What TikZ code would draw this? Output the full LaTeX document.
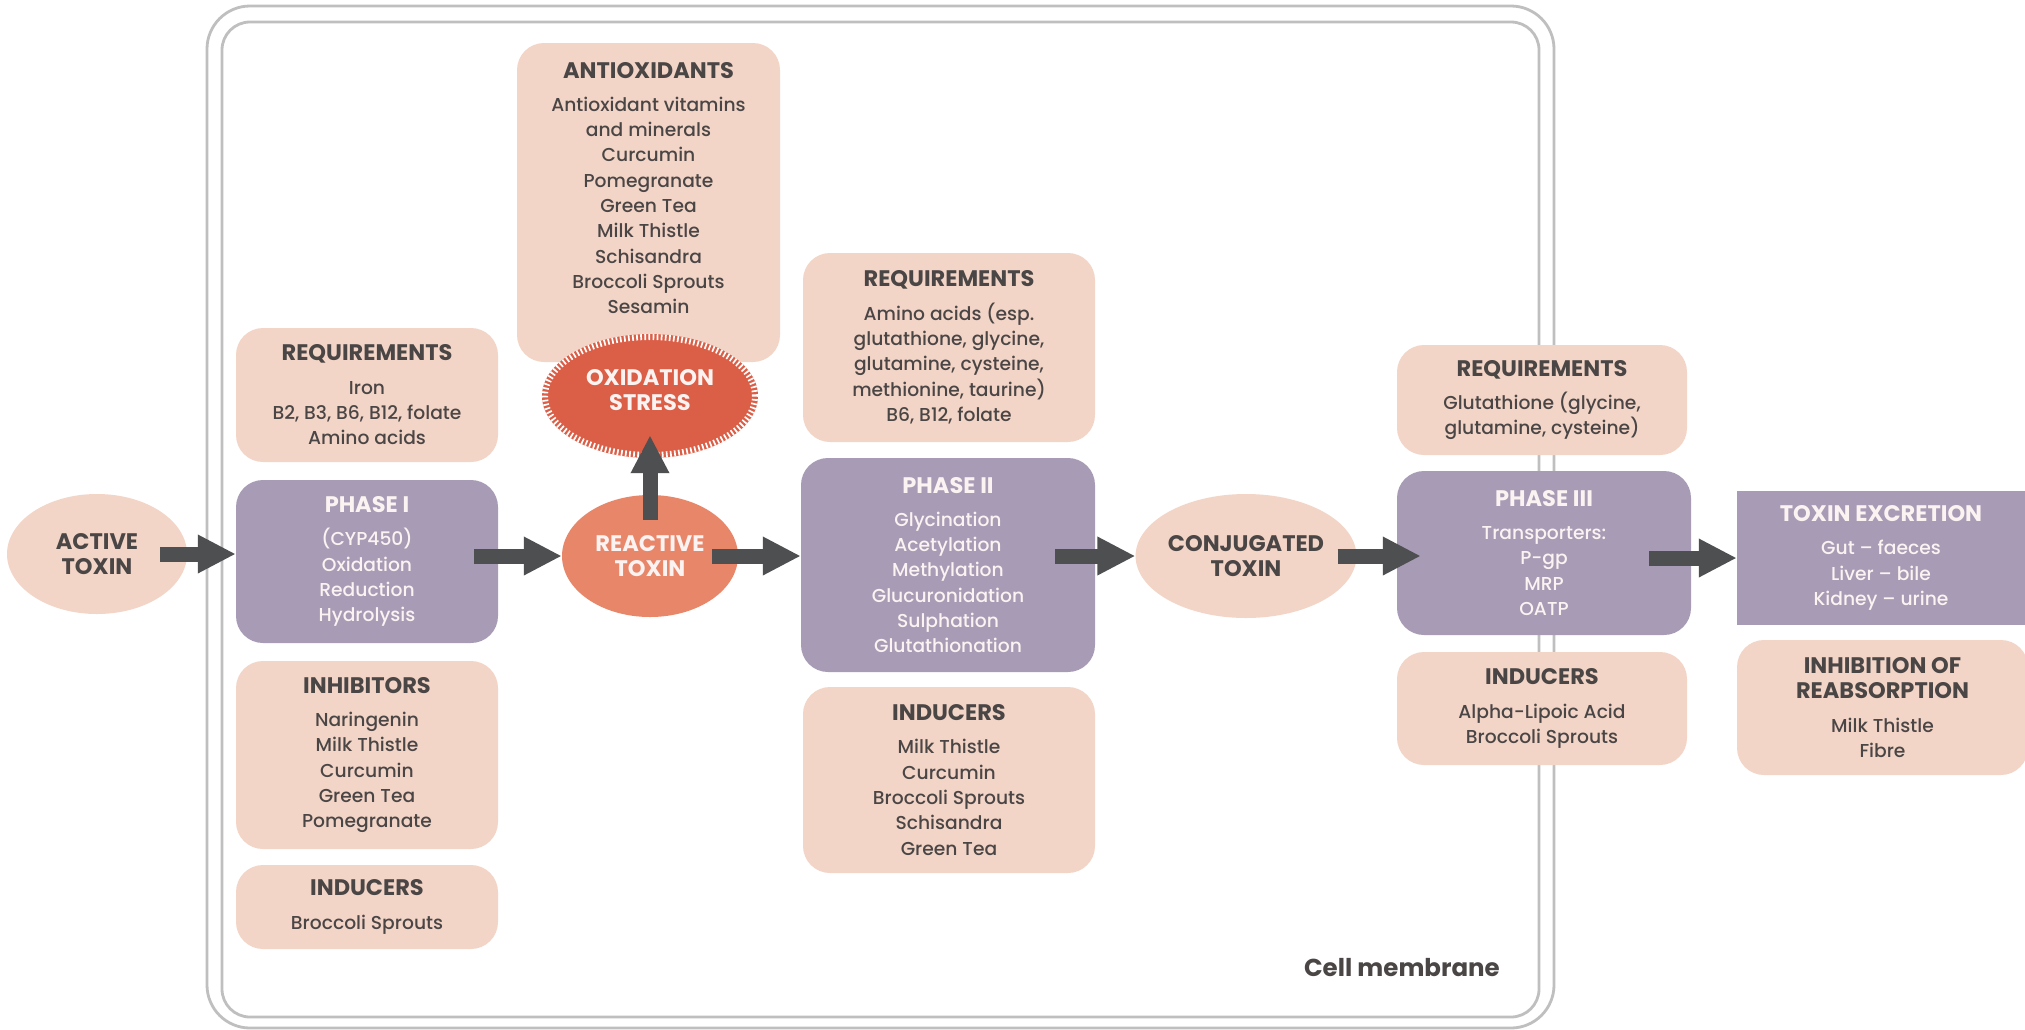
\documentclass[tikz,border=0pt]{standalone}
\usepackage{fontspec}
\setmainfont{Poppins}[UprightFont={* Medium}, BoldFont={* Bold}]
\usetikzlibrary{shapes.geometric,arrows.meta,calc}
\definecolor{pinkbox}{HTML}{F3D5C7}
\definecolor{purplebox}{HTML}{A89BB5}
\definecolor{reactcol}{HTML}{E8866A}
\definecolor{oxcol}{HTML}{DB5E47}
\definecolor{arrowcol}{HTML}{4D4F51}
\definecolor{txtcol}{HTML}{4B4646}
\definecolor{memcol}{HTML}{BFBFBF}
\definecolor{lighttxt}{HTML}{FBF3F1}
\newcommand\bodyfnt{\fontsize{18.7}{25.3}\selectfont}
\newcommand\hdfnt{\fontsize{22.5}{25.3}\selectfont\bfseries}
\newcommand\hd[1]{{\hdfnt #1}}
\tikzset{
  pbox/.style={fill=pinkbox, rounded corners=27pt, text=txtcol, align=center, inner sep=0pt, font=\bodyfnt},
  vbox/.style={fill=purplebox, rounded corners=27pt, text=lighttxt, align=center, inner sep=0pt, font=\bodyfnt},
  toxin/.style={ellipse, fill=pinkbox, inner sep=0pt, align=center, font=\hdfnt, text=txtcol},
  flow/.style={draw=arrowcol, line width=15pt, -{Triangle[length=38pt,width=36pt]}},
  membrane/.style={draw=memcol, line width=2.8pt},
}
\begin{document}
\begin{tikzpicture}[x=1pt,y=-1pt]
\useasboundingbox[fill=white] (0,0) rectangle (2025,1029);
% cell membrane
\draw[membrane, rounded corners=43pt] (207,6) rectangle (1554,1028);
\draw[membrane, rounded corners=28pt] (222,22) rectangle (1539,1017);

% Phase I column
\node[pbox, minimum width=262pt, minimum height=134pt] (req1) at (367,395)
  {\hd{REQUIREMENTS}\\[8pt]Iron\\B2, B3, B6, B12, folate\\Amino acids};
\node[vbox, minimum width=262pt, minimum height=163pt] (p1) at (367,561.5)
  {\hd{PHASE I}\\[8pt](CYP450)\\Oxidation\\Reduction\\Hydrolysis};
\node[pbox, minimum width=262pt, minimum height=188pt] (inh1) at (367,755)
  {\hd{INHIBITORS}\\[8pt]Naringenin\\Milk Thistle\\Curcumin\\Green Tea\\Pomegranate};
\node[pbox, minimum width=262pt, minimum height=84pt] (ind1) at (367,907)
  {\hd{INDUCERS}\\[8pt]Broccoli Sprouts};

% antioxidants and oxidation stress
\node[pbox, minimum width=263pt, minimum height=319pt] (antiox) at (648.5,202.5) {};
\node[text=txtcol, align=center, font=\bodyfnt, inner sep=0pt] (antioxT) at (648.5,188)
  {\hd{ANTIOXIDANTS}\\[8pt]Antioxidant vitamins\\and minerals\\Curcumin\\Pomegranate\\Green Tea\\Milk Thistle\\Schisandra\\Broccoli Sprouts\\Sesamin};
\node[ellipse, fill=oxcol, minimum width=216pt, minimum height=124pt, inner sep=0pt] (ox) at (650,396) {};
\draw[white, line width=6pt, dash pattern=on 1.7pt off 2.4pt] (ox.center) ellipse [x radius=105pt, y radius=59pt];
\node[text=lighttxt, align=center, font=\hdfnt, inner sep=0pt] (oxT) at (650,390) {OXIDATION\\STRESS};

% toxins
\node[toxin, minimum width=180pt, minimum height=120pt] (active) at (97,554) {ACTIVE\\TOXIN};
\node[toxin, fill=reactcol, text=lighttxt, minimum width=176pt, minimum height=122pt] (react) at (650,556) {REACTIVE\\TOXIN};

% Phase II column
\node[pbox, minimum width=292pt, minimum height=189pt] (req2) at (949,347.5)
  {\hd{REQUIREMENTS}\\[8pt]Amino acids (esp.\\glutathione, glycine,\\glutamine, cysteine,\\methionine, taurine)\\B6, B12, folate};
\node[vbox, minimum width=294pt, minimum height=214pt] (p2) at (948,565)
  {\hd{PHASE II}\\[8pt]Glycination\\Acetylation\\Methylation\\Glucuronidation\\Sulphation\\Glutathionation};
\node[pbox, minimum width=292pt, minimum height=186pt] (ind2) at (949,780)
  {\hd{INDUCERS}\\[8pt]Milk Thistle\\Curcumin\\Broccoli Sprouts\\Schisandra\\Green Tea};

\node[toxin, minimum width=220pt, minimum height=124pt] (conj) at (1246,556) {CONJUGATED\\TOXIN};

% Phase III column
\node[pbox, minimum width=290pt, minimum height=110pt] (req3) at (1542,400)
  {\hd{REQUIREMENTS}\\[8pt]Glutathione (glycine,\\glutamine, cysteine)};
\node[vbox, minimum width=294pt, minimum height=164pt] (p3) at (1544,553)
  {\hd{PHASE III}\\[8pt]Transporters:\\P-gp\\MRP\\OATP};
\node[pbox, minimum width=290pt, minimum height=113pt] (ind3) at (1542,708.5)
  {\hd{INDUCERS}\\[8pt]Alpha-Lipoic Acid\\Broccoli Sprouts};

% excretion
\node[vbox, rounded corners=0pt, minimum width=288pt, minimum height=134pt] (excr) at (1881,558)
  {\hd{TOXIN EXCRETION}\\[8pt]Gut -- faeces\\Liver -- bile\\Kidney -- urine};
\node[pbox, minimum width=291pt, minimum height=135pt] (inhib) at (1882.5,707.5)
  {\hd{INHIBITION OF}\\\hd{REABSORPTION}\\[8pt]Milk Thistle\\Fibre};

% arrows
\draw[flow] ([xshift=-27pt]active.east) -- (active.east -| p1.west);
\draw[flow] ([xshift=-24pt]p1.east |- react.west) -- (react.west);
\draw[flow] ([xshift=-26pt]react.east) -- (react.east -| p2.west);
\draw[flow] ([xshift=-40pt]p2.east |- conj.west) -- (conj.west);
\draw[flow] ([xshift=-19pt]conj.east) -- ($(conj.east -| p3.west)+(24pt,0pt)$);
\draw[flow] ([xshift=-42pt]p3.east |- excr.west) -- (excr.west);
\draw[flow] ([yshift=-25pt]react.north) -- ([yshift=23pt]ox.south);

\node[anchor=base east, text=txtcol, font=\fontsize{24.5}{28}\selectfont\bfseries, inner sep=0pt] (memlabel) at (1500,976) {Cell membrane};
\end{tikzpicture}
\end{document}
